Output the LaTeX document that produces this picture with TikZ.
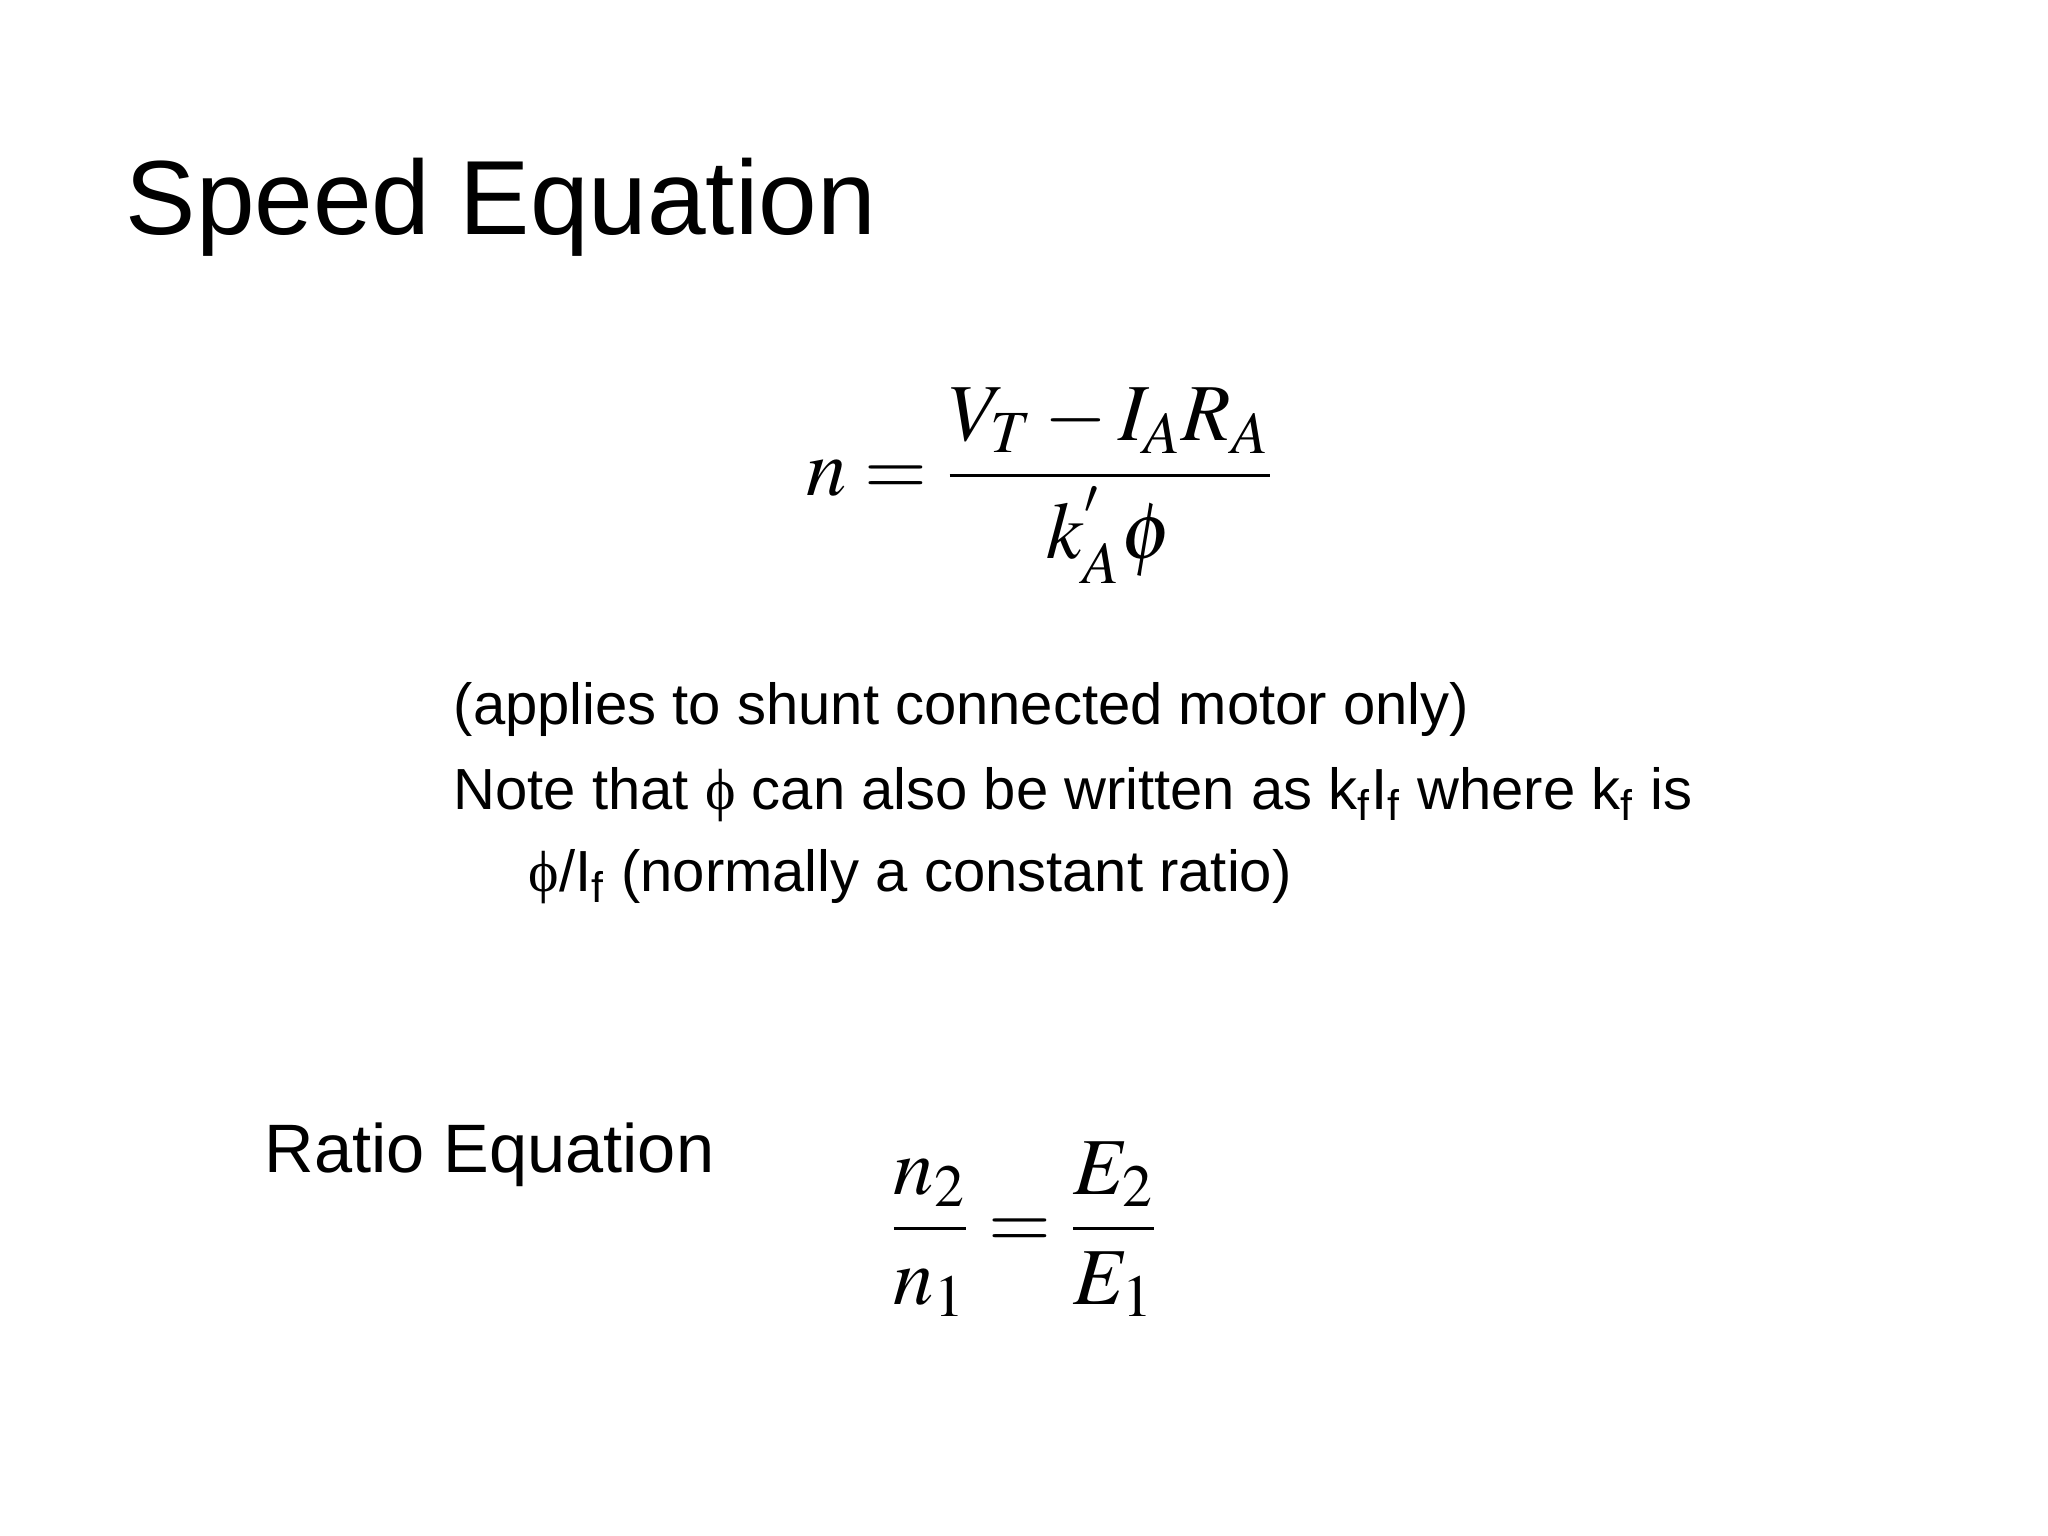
\documentclass[tikz,border=0pt]{standalone}
\usepackage{mathptmx}
\usepackage[no-math]{fontspec}
\setmainfont{Liberation Sans}
\newfontfamily\symf{Liberation Serif}
\begin{document}
\begin{tikzpicture}[txt/.style={anchor=base west,inner sep=0pt},
  body/.style={txt,font=\fontsize{16.5}{20}\selectfont}]
\useasboundingbox (0,0) rectangle (20.48,-15.36);
\node[txt,font=\fontsize{30}{36}\selectfont] (title) at (1.25,-2.35) {Speed Equation};
\node (eq1) at (10.4,-4.86) {\fontsize{23}{28}\selectfont$\displaystyle n=\frac{V_T-I_AR_A}{k_A^{'}\phi}$};
\node[body] (l1) at (4.53,-7.24) {(applies to shunt connected motor only)};
\node[body] (l2) at (4.53,-8.09) {Note that {\symf ϕ} can also be written as k\textsubscript{f}I\textsubscript{f} where k\textsubscript{f} is};
\node[body] (l3) at (5.28,-8.91) {{\symf ϕ}/I\textsubscript{f} (normally a constant ratio)};
\node[txt,font=\fontsize{19.5}{24}\selectfont] (ratio) at (2.64,-11.72) {Ratio Equation};
\node (eq2) at (10.24,-12.29) {\fontsize{23}{28}\selectfont$\displaystyle \frac{n_2}{n_1}=\frac{E_2}{E_1}$};
\end{tikzpicture}
\end{document}
